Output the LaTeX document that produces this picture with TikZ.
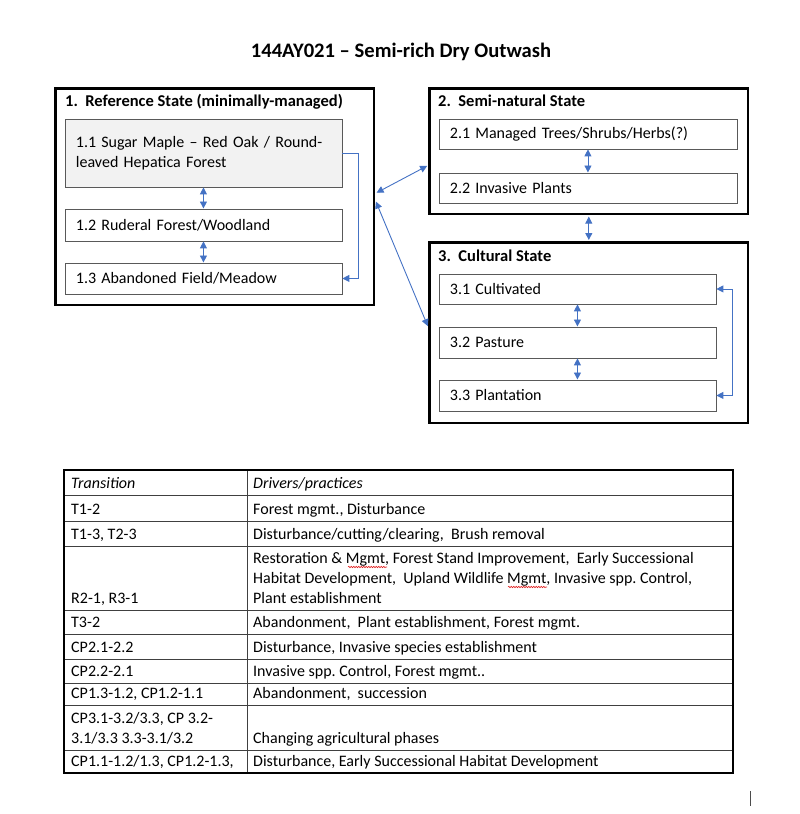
\documentclass[tikz,border=0pt]{standalone}
\usepackage{fontspec}
\setmainfont{Carlito}
\usetikzlibrary{arrows.meta,decorations.pathmorphing}
\frenchspacing

\definecolor{arrowblue}{HTML}{4472C4}
\definecolor{boxgray}{HTML}{F2F2F2}
\definecolor{squigred}{HTML}{E02020}

\newcommand\numgap{\hspace{0.32em}}

\tikzset{
 statebox/.style={draw, line width=2.6pt, anchor=north west, inner sep=0pt},
 statetitle/.style={anchor=base west, inner sep=0pt, font=\fontsize{16.5pt}{20pt}\selectfont\bfseries},
 phasebox/.style={draw=black!65, line width=0.9pt, anchor=north west, inner xsep=11pt, inner ysep=0pt,
  text width=255pt, minimum height=31pt, align=left, font=\fontsize{16pt}{20pt}\selectfont},
 widebox/.style={phasebox, text width=276pt},
 link/.style={arrowblue, line width=0.9pt, <->},
 celltext/.style={anchor=base west, inner sep=0pt, font=\fontsize{16pt}{20pt}\selectfont},
 squiggle/.style={squigred, line width=0.6pt, decorate, decoration={snake, amplitude=0.7pt, segment length=2.5pt}}
}

\begin{document}
\begin{tikzpicture}[x=1pt, y=-1pt, >={Triangle[length=7pt,width=7pt]}]
 \useasboundingbox (0,0) rectangle (800,814);

 \node[anchor=base, inner sep=0pt, font=\fontsize{20.6pt}{24pt}\selectfont\bfseries] (title) at (401,57) {144AY021 – Semi-rich Dry Outwash}; %表題

 % 状態1
 \node[statebox, minimum width=318.5pt, minimum height=216.5pt] (s1) at (54.3,87.3) {};
 \node[statetitle] (t1) at (65,106) {1.\ \ Reference State (minimally-managed)};
 \node[phasebox, minimum height=68pt, fill=boxgray] (p11) at (64.5,118.5) {1.1\numgap Sugar Maple – Red Oak / Round-\\leaved Hepatica Forest};
 \node[phasebox, minimum height=32pt] (p12) at (64.5,208.5) {1.2\numgap Ruderal Forest/Woodland};
 \node[phasebox] (p13) at (64.5,262.5) {1.3\numgap Abandoned Field/Meadow};

 % 状態2
 \node[statebox, minimum width=318.4pt, minimum height=125.4pt] (s2) at (428.3,87.3) {};
 \node[statetitle] (t2) at (438,106) {2.\ \ Semi-natural State};
 \node[widebox, minimum height=30pt] (p21) at (438.5,118.5) {2.1\numgap Managed Trees/Shrubs/Herbs(?)};
 \node[widebox, minimum height=30pt] (p22) at (438.5,172.5) {2.2\numgap Invasive Plants};

 % 状態3
 \node[statebox, minimum width=318.4pt, minimum height=180.4pt] (s3) at (428.3,241.3) {};
 \node[statetitle] (t3) at (438,261) {3.\ \ Cultural State};
 \node[phasebox, minimum height=30pt] (p31) at (438.5,273.5) {3.1\numgap Cultivated};
 \node[phasebox] (p32) at (438.5,326.5) {3.2\numgap Pasture};
 \node[phasebox] (p33) at (438.5,379.5) {3.3\numgap Plantation};

 % 矢印
 \draw[link] (p11.south) -- (p12.north);
 \draw[link] (p12.south) -- (p13.north);
 \draw[link] (p21.south) -- (p22.north);
 \draw[link] (p31.south) -- (p32.north);
 \draw[link] (p32.south) -- (p33.north);
 \draw[link, shorten <=1.3pt, shorten >=1.3pt] (s2.south) -- (s3.north);
 \draw[link, ->] (p11.east) -- ++(16,0) |- (p13.east); %1.1→1.3
 \draw[link] (p31.east) -- ++(16,0) |- (p33.east); %3.1↔3.3
 \draw[link, shorten <=1.3pt, shorten >=1.3pt] ([yshift=3.5pt]s1.east) -- ([yshift=-14pt]s2.west);
 \draw[link, shorten <=1.3pt, shorten >=1.3pt] ([yshift=-3.5pt]s1.east) -- ([yshift=5.5pt]s3.west);

 % 表
 \draw[line width=0.8pt, black!75] (64,495) -- (733,495) (64,521) -- (733,521) (64,546) -- (733,546)
  (64,610) -- (733,610) (64,634) -- (733,634) (64,659) -- (733,659) (64,683) -- (733,683)
  (64,705) -- (733,705) (64,750) -- (733,750) (247,470) -- (247,773);
 \draw[line width=1.6pt] (64,470) rectangle (733,773); %外枠

 \node[celltext] (h1) at (71,488.5) {\itshape Transition};
 \node[celltext] (h2) at (253,488.5) {\itshape Drivers/practices};
 \node[celltext] (c1) at (71,514.5) {T1-2};
 \node[celltext] (d1) at (253,514.5) {Forest mgmt., Disturbance};
 \node[celltext] (c2) at (71,539.5) {T1-3, T2-3};
 \node[celltext] (d2) at (253,539.5) {Disturbance/cutting/clearing,\ \ Brush removal};
 \node[celltext] (c3) at (71,603.5) {R2-1, R3-1};
 \node[celltext] (d3a) at (253,563.5) {Restoration \& Mgmt, Forest Stand Improvement,\ \ Early Successional};
 \node[celltext] (d3b) at (253,583.5) {Habitat Development,\ \ Upland Wildlife Mgmt, Invasive spp. Control,};
 \node[celltext] (d3c) at (253,603.5) {Plant establishment};
 \node[celltext] (c4) at (71,627.5) {T3-2};
 \node[celltext] (d4) at (253,627.5) {Abandonment,\ \ Plant establishment, Forest mgmt.};
 \node[celltext] (c5) at (71,652.5) {CP2.1-2.2};
 \node[celltext] (d5) at (253,652.5) {Disturbance, Invasive species establishment};
 \node[celltext] (c6) at (71,676.5) {CP2.2-2.1};
 \node[celltext] (d6) at (253,676.5) {Invasive spp. Control, Forest mgmt..};
 \node[celltext] (c7) at (71,698.5) {CP1.3-1.2, CP1.2-1.1};
 \node[celltext] (d7) at (253,698.5) {Abandonment,\ \ succession};
 \node[celltext] (c8a) at (71,723.5) {CP3.1-3.2/3.3, CP 3.2-};
 \node[celltext] (c8b) at (71,743.5) {3.1/3.3 3.3-3.1/3.2};
 \node[celltext] (d8) at (253,743.5) {Changing agricultural phases};
 \node[celltext] (c9) at (71,766.5) {CP1.1-1.2/1.3, CP1.2-1.3,};
 \node[celltext] (d9) at (253,766.5) {Disturbance, Early Successional Habitat Development};

 \draw[squiggle] (348,567) -- (387,567); %Mgmt
 \draw[squiggle] (508,587) -- (547,587); %Mgmt

 \draw[line width=1pt, black!70] (750,791) -- (750,806); %カーソル
\end{tikzpicture}
\end{document}
